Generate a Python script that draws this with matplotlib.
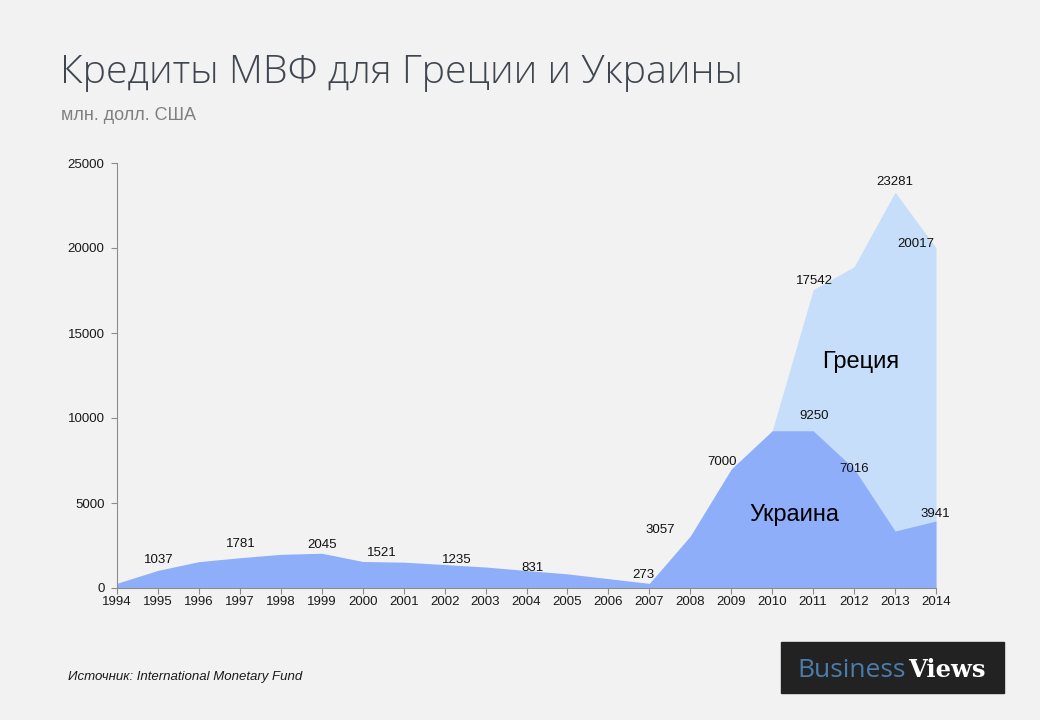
import matplotlib.pyplot as plt
from matplotlib.patches import Rectangle

# данные, млн. долл. США
years = list(range(1994, 2015))
ukraine = [280, 1037, 1550, 1781, 1980, 2045, 1560, 1521, 1380, 1235, 1030,
           831, 550, 273, 3057, 7000, 9250, 9250, 7016, 3350, 3941]
greece = [0, 0, 0, 0, 0, 0, 0, 0, 0, 0, 0,
          0, 0, 0, 0, 0, 9250, 17542, 18900, 23281, 20017]

ukr_label_years = [1995, 1997, 1999, 2001, 2003, 2005, 2007, 2008, 2009, 2011, 2012, 2014]
gre_label_years = [2011, 2013, 2014]

# смещения подписей в пикселях (dx, dy)
ukr_offsets = {1995: (1, 10), 1997: (1, 14), 1999: (0, 8), 2001: (-22, 9), 2003: (-29, 7),
               2005: (-35, 6), 2007: (-6, 8), 2008: (-30, 6), 2009: (-9, 7), 2011: (1, 15),
               2012: (0, 0), 2014: (-1, 7)}
gre_offsets = {2011: (1, 9), 2013: (0, 10), 2014: (-20, 4)}

bg = '#F2F2F2'
fig = plt.figure(figsize=(10.4, 7.2), dpi=100, facecolor=bg)
ax = fig.add_axes([117 / 1040, 1 - 588 / 720, 819 / 1040, 425 / 720])
ax.set_facecolor(bg)

ax.fill_between(years, greece, 0, color='#C6DEFA', linewidth=0)
ax.fill_between(years, ukraine, 0, color='#8FAEFA', linewidth=0)

ax.set_xlim(1994, 2014)
ax.set_ylim(0, 25000)
ax.set_xticks(years)
ax.set_yticks([0, 5000, 10000, 15000, 20000, 25000])
for s in ['top', 'right']:
    ax.spines[s].set_visible(False)
for s in ['left', 'bottom']:
    ax.spines[s].set_color('#8C8C8C')
ax.tick_params(colors='#8C8C8C', labelcolor='#1A1A1A', labelsize=9.5, length=4)
ax.tick_params(axis='y', pad=5)
ax.tick_params(axis='x', pad=2)
for t in ax.get_xticklabels() + ax.get_yticklabels():
    t.set_family('Liberation Sans')

def px(v):
    return v * 0.72

for y in ukr_label_years:
    v = ukraine[years.index(y)]
    dx, dy = ukr_offsets[y]
    ax.annotate(str(v), (y, v), xytext=(px(dx), px(dy)), textcoords='offset points',
                ha='center', va='center', fontsize=9.5, family='Liberation Sans', color='#111111')
for y in gre_label_years:
    v = greece[years.index(y)]
    dx, dy = gre_offsets[y]
    ax.annotate(str(v), (y, v), xytext=(px(dx), px(dy)), textcoords='offset points',
                ha='center', va='center', fontsize=9.5, family='Liberation Sans', color='#111111')

ax.text(2012.15, 13300, 'Греция', ha='center', va='center', fontsize=17,
        family='Liberation Sans', color='#000000')
ax.text(2010.55, 4300, 'Украина', ha='center', va='center', fontsize=17,
        family='Liberation Sans', color='#000000')

fig.text(60 / 1040, 1 - 83 / 720, 'Кредиты МВФ для Греции и Украины', fontsize=28.4,
         family='Open Sans', fontweight='light', color='#3F4650', va='baseline')
fig.text(61 / 1040, 1 - 120 / 720, 'млн. долл. США', fontsize=13,
         family='Liberation Sans', color='#808080', va='baseline')
fig.text(68 / 1040, 1 - 680 / 720, 'Источник: International Monetary Fund', fontsize=9.5,
         family='Liberation Sans', style='italic', color='#1A1A1A', va='baseline')

# логотип
fig.patches.append(Rectangle((781 / 1040, 1 - 693 / 720), 223 / 1040, 51 / 720,
                             transform=fig.transFigure, color='#222222', zorder=1))
fig.text(797 / 1040, 1 - 677 / 720, 'Business', fontsize=19, family='Open Sans',
         color='#4A7DAA', va='baseline', zorder=2)
fig.text(908 / 1040, 1 - 677 / 720, 'Views', fontsize=17.5, family='DejaVu Serif',
         fontweight='bold', color='white', va='baseline', ha='left', zorder=2)

fig.savefig('out.png', dpi=100, facecolor=bg)
